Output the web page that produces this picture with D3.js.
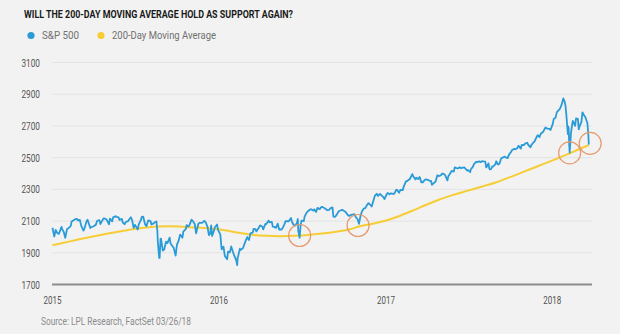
<!DOCTYPE html>
<html><head><meta charset="utf-8">
<script src="https://cdn.jsdelivr.net/npm/d3@7"></script>
<style>
html,body{margin:0;padding:0;background:#f2f2f2;}
svg{display:block;}
text{font-family:Roboto,"Liberation Sans",sans-serif;}
</style></head>
<body><svg id="c" width="620" height="334"></svg>
<script>
// ---------- DATA ----------
const title = "WILL THE 200-DAY MOVING AVERAGE HOLD AS SUPPORT AGAIN?";
const seriesNames = ["S&P 500", "200-Day Moving Average"];
const source = "Source: LPL Research, FactSet 03/26/18";
const yTicks = [1700, 1900, 2100, 2300, 2500, 2700, 2900, 3100];
const xTickLabels = ["2015", "2016", "2017", "2018"];

const sp500_2015 = [
["2015-01-02",2058],["2015-01-06",2003],["2015-01-09",2044],["2015-01-13",2023],["2015-01-16",2019],["2015-01-22",2063],["2015-01-23",2051],["2015-01-27",2030],["2015-01-30",1995],
["2015-02-03",2050],["2015-02-06",2055],["2015-02-11",2068],["2015-02-13",2097],["2015-02-20",2110],["2015-02-25",2114],["2015-02-27",2104],
["2015-03-03",2108],["2015-03-06",2071],["2015-03-11",2040],["2015-03-13",2053],["2015-03-18",2100],["2015-03-20",2108],["2015-03-26",2056],["2015-03-27",2061],
["2015-04-02",2067],["2015-04-07",2076],["2015-04-10",2102],["2015-04-15",2106],["2015-04-17",2081],["2015-04-24",2117],["2015-04-28",2114],
["2015-05-01",2108],["2015-05-06",2080],["2015-05-08",2116],["2015-05-13",2098],["2015-05-15",2123],["2015-05-21",2131],["2015-05-22",2126],["2015-05-27",2123],["2015-05-29",2107],
["2015-06-03",2114],["2015-06-05",2092],["2015-06-09",2080],["2015-06-12",2094],["2015-06-17",2100],["2015-06-19",2110],["2015-06-23",2124],["2015-06-26",2102],["2015-06-29",2057],
["2015-07-02",2076],["2015-07-08",2047],["2015-07-10",2077],["2015-07-15",2107],["2015-07-17",2127],["2015-07-20",2128],["2015-07-24",2080],["2015-07-27",2068],["2015-07-31",2104],
["2015-08-05",2100],["2015-08-07",2078],["2015-08-11",2084],["2015-08-14",2092],["2015-08-18",2097],["2015-08-20",2036],["2015-08-21",1971],["2015-08-24",1867],["2015-08-25",1868],["2015-08-27",1988],["2015-08-28",1989],
["2015-09-01",1914],["2015-09-04",1921],["2015-09-08",1970],["2015-09-11",1961],["2015-09-16",1996],["2015-09-18",1958],["2015-09-23",1938],["2015-09-25",1931],["2015-09-29",1882],
["2015-10-02",1951],["2015-10-06",1980],["2015-10-09",2015],["2015-10-14",1995],["2015-10-16",2033],["2015-10-22",2052],["2015-10-23",2075],["2015-10-27",2066],["2015-10-30",2079],
["2015-11-03",2109],["2015-11-06",2099],["2015-11-10",2081],["2015-11-13",2023],["2015-11-18",2083],["2015-11-20",2089],["2015-11-25",2089],["2015-11-27",2090],
["2015-12-01",2102],["2015-12-04",2092],["2015-12-08",2063],["2015-12-11",2012],["2015-12-14",2021],["2015-12-16",2073],["2015-12-18",2006],["2015-12-22",2038],["2015-12-24",2061],["2015-12-29",2078],["2015-12-31",2044]
];
const sp500_2016 = [
["2016-01-05",2016],["2016-01-08",1922],["2016-01-12",1939],["2016-01-15",1880],["2016-01-20",1859],["2016-01-22",1907],["2016-01-26",1903],["2016-01-29",1940],
["2016-02-02",1903],["2016-02-05",1880],["2016-02-09",1852],["2016-02-11",1822],["2016-02-12",1865],["2016-02-17",1926],["2016-02-19",1918],["2016-02-24",1930],["2016-02-26",1948],
["2016-03-01",1978],["2016-03-04",1999],["2016-03-08",1980],["2016-03-11",2022],["2016-03-16",2027],["2016-03-18",2050],["2016-03-22",2049],["2016-03-24",2035],["2016-03-29",2056],
["2016-04-01",2073],["2016-04-06",2066],["2016-04-08",2048],["2016-04-13",2082],["2016-04-15",2081],["2016-04-20",2103],["2016-04-22",2092],["2016-04-27",2095],["2016-04-29",2065],
["2016-05-03",2063],["2016-05-06",2057],["2016-05-10",2084],["2016-05-13",2047],["2016-05-18",2047],["2016-05-20",2052],["2016-05-24",2076],["2016-05-27",2099],
["2016-06-01",2099],["2016-06-03",2099],["2016-06-08",2119],["2016-06-10",2096],["2016-06-14",2075],["2016-06-17",2071],["2016-06-21",2088],["2016-06-23",2113],["2016-06-24",2037],["2016-06-27",1995],["2016-06-29",2070],
["2016-07-01",2103],["2016-07-06",2100],["2016-07-08",2130],["2016-07-12",2152],["2016-07-15",2162],["2016-07-20",2173],["2016-07-22",2175],["2016-07-27",2166],["2016-07-29",2174],
["2016-08-02",2157],["2016-08-05",2183],["2016-08-10",2175],["2016-08-12",2184],["2016-08-15",2190],["2016-08-19",2184],["2016-08-24",2175],["2016-08-26",2169],["2016-08-31",2171],
["2016-09-02",2180],["2016-09-07",2186],["2016-09-09",2128],["2016-09-13",2127],["2016-09-16",2139],["2016-09-21",2163],["2016-09-23",2165],["2016-09-28",2171],["2016-09-30",2168],
["2016-10-05",2159],["2016-10-07",2153],["2016-10-11",2136],["2016-10-14",2133],["2016-10-18",2139],["2016-10-21",2141],["2016-10-25",2143],["2016-10-28",2126],
["2016-11-01",2111],["2016-11-04",2083],["2016-11-08",2139],["2016-11-11",2164],["2016-11-15",2180],["2016-11-18",2182],["2016-11-22",2203],["2016-11-25",2213],["2016-11-30",2199],
["2016-12-02",2192],["2016-12-07",2241],["2016-12-09",2260],["2016-12-13",2272],["2016-12-16",2258],["2016-12-20",2271],["2016-12-23",2264],["2016-12-28",2250],["2016-12-30",2239]
];
const sp500_2017 = [
["2017-01-04",2270],["2017-01-06",2277],["2017-01-10",2269],["2017-01-13",2275],["2017-01-18",2271],["2017-01-20",2271],["2017-01-25",2298],["2017-01-27",2295],["2017-01-31",2279],
["2017-02-03",2297],["2017-02-08",2295],["2017-02-10",2316],["2017-02-15",2350],["2017-02-17",2351],["2017-02-22",2362],["2017-02-24",2367],
["2017-03-01",2396],["2017-03-03",2383],["2017-03-08",2363],["2017-03-10",2373],["2017-03-14",2365],["2017-03-17",2378],["2017-03-21",2344],["2017-03-24",2344],["2017-03-28",2359],["2017-03-31",2363],
["2017-04-04",2360],["2017-04-07",2355],["2017-04-11",2353],["2017-04-13",2329],["2017-04-18",2342],["2017-04-21",2349],["2017-04-25",2389],["2017-04-28",2384],
["2017-05-03",2389],["2017-05-05",2399],["2017-05-09",2397],["2017-05-12",2390],["2017-05-17",2357],["2017-05-19",2382],["2017-05-24",2404],["2017-05-26",2416],["2017-05-31",2412],
["2017-06-02",2439],["2017-06-07",2433],["2017-06-09",2432],["2017-06-13",2440],["2017-06-16",2433],["2017-06-20",2437],["2017-06-23",2438],["2017-06-29",2419],["2017-06-30",2423],
["2017-07-06",2409],["2017-07-07",2425],["2017-07-12",2443],["2017-07-14",2459],["2017-07-19",2474],["2017-07-21",2472],["2017-07-26",2477],["2017-07-28",2472],
["2017-08-02",2478],["2017-08-04",2476],["2017-08-08",2475],["2017-08-10",2438],["2017-08-11",2441],["2017-08-15",2464],["2017-08-17",2430],["2017-08-18",2426],["2017-08-21",2428],["2017-08-23",2444],["2017-08-25",2443],["2017-08-30",2457],
["2017-09-01",2477],["2017-09-05",2457],["2017-09-08",2461],["2017-09-12",2496],["2017-09-15",2500],["2017-09-19",2506],["2017-09-22",2502],["2017-09-26",2497],["2017-09-29",2519],
["2017-10-03",2534],["2017-10-06",2549],["2017-10-11",2555],["2017-10-13",2553],["2017-10-17",2559],["2017-10-20",2575],["2017-10-25",2557],["2017-10-27",2581],
["2017-11-01",2579],["2017-11-03",2588],["2017-11-08",2594],["2017-11-10",2582],["2017-11-15",2565],["2017-11-17",2579],["2017-11-22",2597],["2017-11-24",2602],["2017-11-28",2627],
["2017-12-01",2642],["2017-12-05",2630],["2017-12-08",2652],["2017-12-13",2663],["2017-12-15",2675],["2017-12-18",2690],["2017-12-22",2683],["2017-12-27",2682],["2017-12-29",2674]
];
const sp500_2018 = [
["2018-01-03",2713],["2018-01-05",2743],["2018-01-09",2751],["2018-01-12",2787],["2018-01-17",2803],["2018-01-19",2810],["2018-01-23",2839],["2018-01-26",2873],["2018-01-29",2854],["2018-01-31",2824],
["2018-02-02",2762],["2018-02-05",2649],["2018-02-06",2695],["2018-02-07",2682],["2018-02-08",2581],["2018-02-09",2532],["2018-02-12",2656],["2018-02-14",2699],["2018-02-16",2732],["2018-02-21",2701],["2018-02-23",2747],["2018-02-27",2744],
["2018-03-01",2678],["2018-03-02",2691],["2018-03-07",2727],["2018-03-09",2786],["2018-03-13",2765],["2018-03-16",2752],["2018-03-20",2717],["2018-03-22",2643],["2018-03-23",2582]
];
const ma200 = [
["2015-01-02",1948],["2015-02-01",1966],["2015-03-01",1985],["2015-04-01",2003],["2015-05-01",2020],["2015-06-01",2036],["2015-07-01",2050],["2015-08-01",2061],["2015-08-20",2066],
["2015-09-15",2067],["2015-10-15",2064],["2015-11-15",2060],["2015-12-15",2053],["2016-01-15",2042],["2016-02-15",2026],["2016-03-15",2013],["2016-04-15",2007],["2016-05-15",2005],
["2016-06-15",2007],["2016-07-15",2012],["2016-08-15",2021],["2016-09-15",2033],["2016-10-15",2048],["2016-11-04",2066],["2016-12-01",2082],["2017-01-01",2102],["2017-02-01",2132],
["2017-03-01",2165],["2017-04-01",2203],["2017-05-01",2238],["2017-06-01",2267],["2017-07-01",2292],["2017-08-01",2318],["2017-09-01",2345],["2017-10-01",2377],["2017-11-01",2412],
["2017-12-01",2446],["2018-01-01",2481],["2018-02-01",2517],["2018-02-09",2527],["2018-03-01",2553],["2018-03-23",2578]
];
// highlighted touches of the 200-day average
const touchDates = ["2016-06-27", "2016-11-02", "2018-02-09", "2018-03-26"];
const touchValues = [2009, 2072, 2530, 2590];

// ---------- CHART ----------
const parse = d3.timeParse("%Y-%m-%d");
const sp500 = [...sp500_2015, ...sp500_2016, ...sp500_2017, ...sp500_2018].map(d => ({date: parse(d[0]), value: d[1]}));
const ma = ma200.map(d => ({date: parse(d[0]), value: d[1]}));

const colors = {sp: "#2a9bd7", ma: "#f7cd35", circle: "#e69a6e"};
const svg = d3.select("#c");
svg.append("rect").attr("width", 620).attr("height", 334).attr("fill", "#f2f2f2");

const x = d3.scaleTime().domain([parse("2015-01-01"), parse("2018-03-30")]).range([52, 592]);
const y = d3.scaleLinear().domain([1700, 3100]).range([284.5, 62.5]);

// gridlines
svg.append("g").selectAll("line").data(yTicks.slice(1)).join("line")
  .attr("x1", 52).attr("x2", 592)
  .attr("y1", d => y(d)).attr("y2", d => y(d))
  .attr("stroke", "#e3e3e3").attr("stroke-width", 1);

// y labels
const yAxis = d3.axisLeft(y).tickValues(yTicks).tickFormat(d3.format("d")).tickSize(0).tickPadding(0);
const gy = svg.append("g").attr("transform", "translate(40,0)").call(yAxis);
gy.select(".domain").remove();
gy.selectAll("text").attr("font-size", 10).attr("fill", "#555").attr("dy", "0.35em")
  .style("font-family", "Roboto, sans-serif")
  .attr("textLength", 18.5).attr("lengthAdjust", "spacingAndGlyphs");

// x axis
const xTickDates = xTickLabels.map(s => parse(s + "-01-01"));
const xAxis = d3.axisBottom(x).tickValues(xTickDates).tickFormat((d, i) => xTickLabels[i]).tickSize(0).tickPadding(0);
const gx = svg.append("g").attr("transform", "translate(0,285)").call(xAxis);
gx.select(".domain").remove();
gx.selectAll("text").attr("font-size", 10).attr("fill", "#555").attr("dy", "18.5")
  .style("font-family", "Roboto, sans-serif")
  .attr("textLength", 18).attr("lengthAdjust", "spacingAndGlyphs");
svg.append("line").attr("x1", 52).attr("x2", 592).attr("y1", y(1700)).attr("y2", y(1700))
  .attr("stroke", "#8c8c8c").attr("stroke-width", 2);

// lines
svg.append("path").datum(ma).attr("fill", "none").attr("stroke", colors.ma).attr("stroke-width", 2)
  .attr("d", d3.line().x(d => x(d.date)).y(d => y(d.value)).curve(d3.curveMonotoneX));
svg.append("path").datum(sp500).attr("fill", "none").attr("stroke", colors.sp).attr("stroke-width", 1.8)
  .attr("stroke-linejoin", "round").attr("d", d3.line().x(d => x(d.date)).y(d => y(d.value)));

// circles
svg.append("g").selectAll("circle").data(touchDates).join("circle")
  .attr("cx", d => x(parse(d))).attr("cy", (d, i) => y(touchValues[i]))
  .attr("r", 11).attr("fill", "none").attr("stroke", colors.circle).attr("stroke-width", 1.2);

// title
svg.append("text").attr("x", 24).attr("y", 17.5).text(title)
  .attr("font-size", 11).attr("font-weight", "bold").attr("fill", "#1a1a1a")
  .attr("textLength", 269).attr("lengthAdjust", "spacingAndGlyphs");

// legend
const legX = [31, 101];
const legW = [37, 104];
const lg = svg.append("g").selectAll("g").data(seriesNames).join("g")
  .attr("transform", (d, i) => `translate(${legX[i]},35.5)`);
lg.append("circle").attr("r", 3.6).attr("fill", (d, i) => i === 0 ? colors.sp : colors.ma);
lg.append("text").attr("x", 11).attr("y", 3.8).text(d => d)
  .attr("font-size", 10.5).attr("fill", "#707070")
  .attr("textLength", (d, i) => legW[i]).attr("lengthAdjust", "spacingAndGlyphs");

// source
svg.append("text").attr("x", 41).attr("y", 325).text(source)
  .attr("font-size", 10).attr("fill", "#8a8a8a")
  .attr("textLength", 150).attr("lengthAdjust", "spacingAndGlyphs");
</script></body></html>
